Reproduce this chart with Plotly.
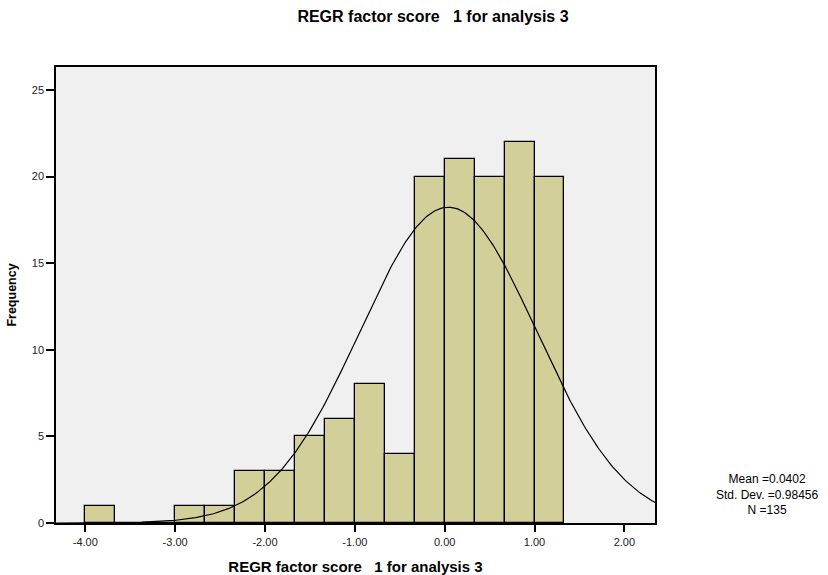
import numpy as np
import plotly.graph_objects as go

# ---- data ----
bin_left_edges = [-4.0, -3.6667, -3.3333, -3.0, -2.6667, -2.3333, -2.0, -1.6667,
                  -1.3333, -1.0, -0.6667, -0.3333, 0.0, 0.3333, 0.6667, 1.0]
frequencies = [1, 0, 0, 1, 1, 3, 3, 5, 6, 8, 4, 20, 21, 20, 22, 20]
bin_width = 1.0 / 3.0
MEAN = 0.0402
STD = 0.98456
N = 135
x_tick_vals = [-4, -3, -2, -1, 0, 1, 2]
x_tick_text = ["-4.00", "-3.00", "-2.00", "-1.00", "0.00", "1.00", "2.00"]
y_tick_vals = [0, 5, 10, 15, 20, 25]
title_text = "REGR factor score\u00a0\u00a0\u00a01 for analysis 3"
stats_lines = ["Mean =0.0402", "Std. Dev. =0.98456", "N =135"]

centers = [e + bin_width / 2 for e in bin_left_edges]
xs = np.linspace(-4.33, 2.34, 400)
ys = N * bin_width * np.exp(-0.5 * ((xs - MEAN) / STD) ** 2) / (STD * np.sqrt(2 * np.pi))

fig = go.Figure()
fig.add_trace(go.Bar(x=centers, y=frequencies, width=bin_width,
                     marker=dict(color="#d3cf99", line=dict(color="black", width=1.3)),
                     showlegend=False))
fig.add_trace(go.Scatter(x=xs, y=ys, mode="lines", line=dict(color="black", width=1.2),
                         showlegend=False))

font_family = "Liberation Sans, Arial, sans-serif"
fig.update_layout(
    width=828, height=575,
    margin=dict(l=56, r=173, t=67, b=52, autoexpand=False),
    paper_bgcolor="white", plot_bgcolor="#f0f0f0",
    bargap=0,
    title=dict(text="<b>" + title_text + "</b>", x=433 / 828, xanchor="center",
               y=1 - 16 / 575, yanchor="middle",
               font=dict(family=font_family, size=16, color="black")),
    font=dict(family=font_family, color="black"),
)
fig.update_xaxes(range=[-4.326, 2.341], tickvals=x_tick_vals, ticktext=x_tick_text,
                 automargin=False,
                 ticks="outside", ticklen=7, tickwidth=1.5, tickcolor="black",
                 ticklabelstandoff=1,
                 showline=True, linecolor="black", linewidth=1.5, mirror=True,
                 showgrid=False, zeroline=False,
                 tickfont=dict(size=11, color="#222"),
                 title=dict(text="<b>" + title_text + "</b>", standoff=18,
                            font=dict(size=15, color="black")))
fig.update_yaxes(range=[0, 26.33], tickvals=y_tick_vals,
                 automargin=False,
                 ticks="outside", ticklen=8, tickwidth=1.5, tickcolor="black",
                 showline=True, linecolor="black", linewidth=1.5, mirror=True,
                 showgrid=False, zeroline=False,
                 tickfont=dict(size=11, color="#222"),
                 title=dict(text="<b>Frequency</b>", standoff=12,
                            font=dict(size=12.5, color="black")))
fig.add_annotation(xref="paper", yref="paper", x=(767 - 56) / 599,
                   y=(523 - 494) / 456,
                   text="<br>".join(stats_lines), showarrow=False, align="center",
                   xanchor="center", yanchor="middle",
                   font=dict(family=font_family, size=12, color="black"))

fig.write_html("out.html")
